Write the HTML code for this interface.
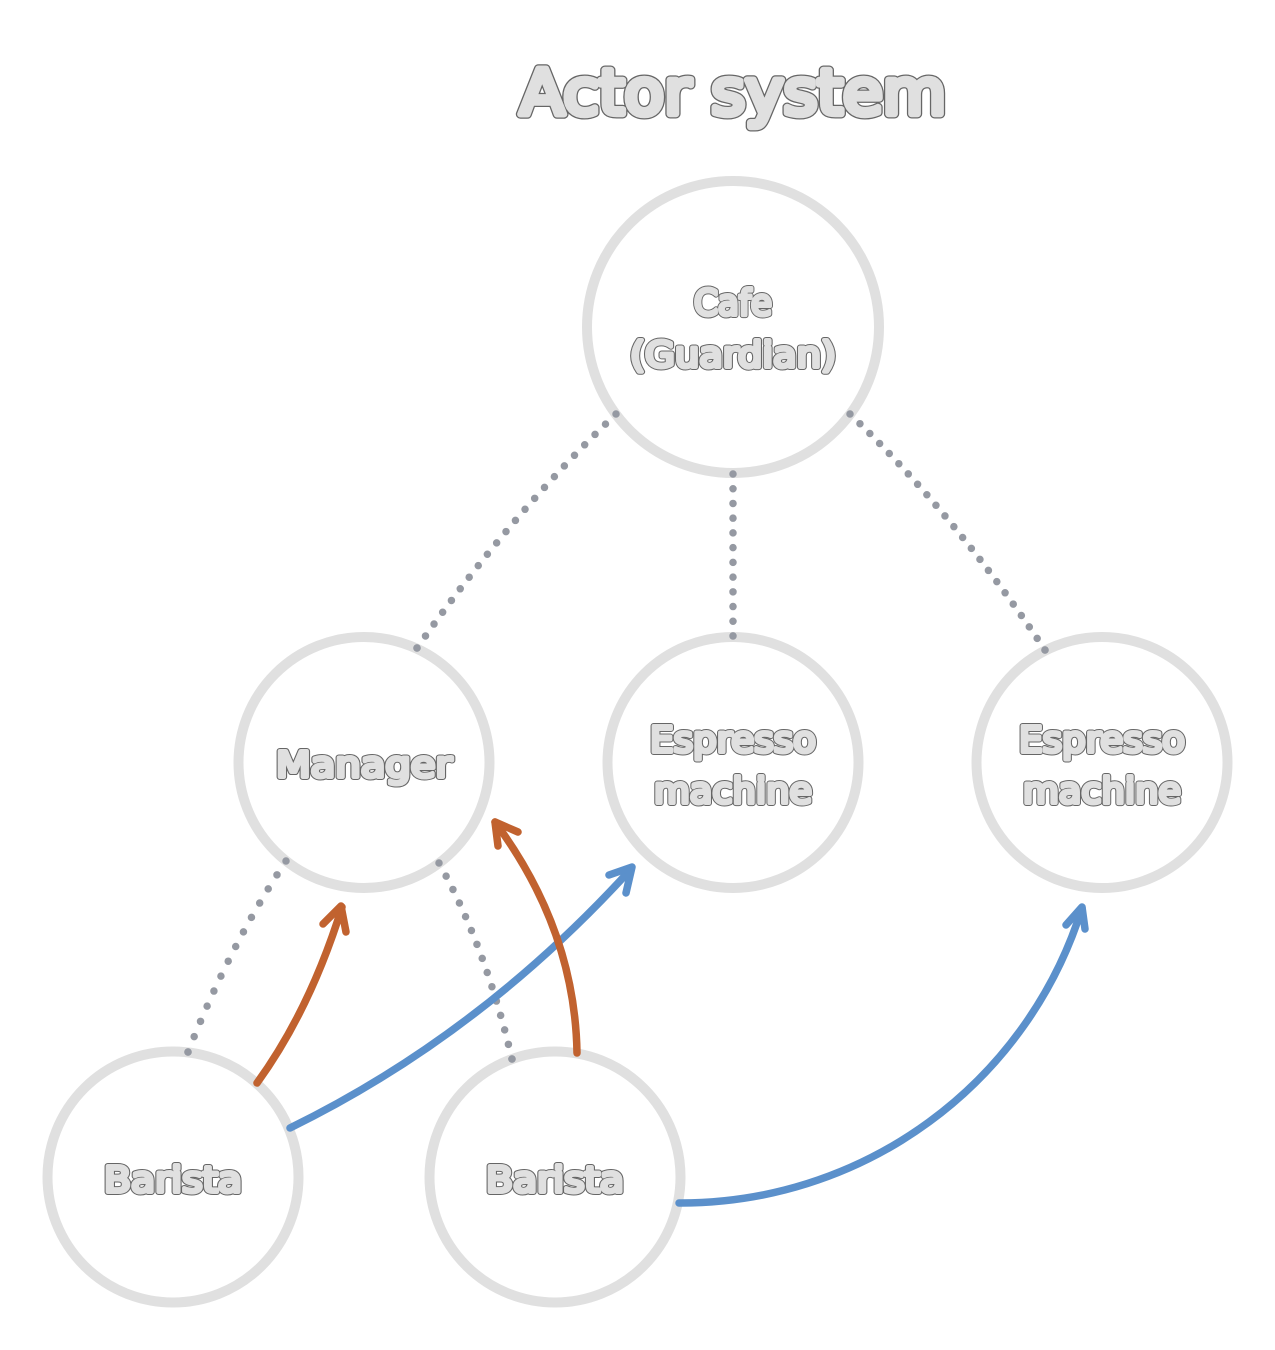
<!DOCTYPE html>
<html><head><meta charset="utf-8"><style>
html,body{margin:0;padding:0;background:#fff;width:1275px;height:1350px;overflow:hidden}
svg{display:block}
text{font-family:"DejaVu Sans","Liberation Sans",sans-serif;font-weight:normal;text-anchor:middle;stroke-linejoin:round;stroke-linecap:round}
.o{fill:#666;stroke:#666}
.i{fill:#e0e0e0;stroke:#e0e0e0}
</style></head><body>
<svg width="1275" height="1350" viewBox="0 0 1275 1350" xmlns="http://www.w3.org/2000/svg">
<g fill="#fff" stroke="#e0e0e0" stroke-width="10">
<circle cx="733" cy="327" r="146"/>
<circle cx="364" cy="762.500" r="125.500"/>
<circle cx="733" cy="762.500" r="125.500"/>
<circle cx="1102" cy="762.500" r="125.500"/>
<circle cx="173" cy="1177" r="125.500"/>
<circle cx="555" cy="1177" r="125.500"/>
</g>
<g fill="none" stroke="#9599a2" stroke-width="7.500" stroke-linecap="round">
<path pathLength="21" stroke-dasharray="0 1" d="M616 414Q510 515 417 648M417 648h0"/>
<path pathLength="11" stroke-dasharray="0 1" d="M733 474V636"/>
<path pathLength="22" stroke-dasharray="0 1" d="M850 414Q955 515 1045 650"/>
<path pathLength="13" stroke-dasharray="0 1" d="M286 861Q230 945 188 1052"/>
<path pathLength="14" stroke-dasharray="0 1" d="M439 863Q485 945 512 1059"/>
</g>
<g fill="#9599a2"><circle cx="733" cy="636" r="3.750"/><circle cx="1045" cy="650" r="3.750"/><circle cx="417" cy="648" r="3.750"/><circle cx="188" cy="1052" r="3.750"/><circle cx="512" cy="1059" r="3.750"/></g>
<g fill="none" stroke-width="7.500" stroke-linecap="round" stroke-linejoin="round">
<g stroke="#5b90cb">
<path d="M290 1128Q480 1035 631 869"/>
<path d="M609 875L632 867L626 893"/>
<path d="M679 1203A420 420 0 0 0 1082 908"/>
<path d="M1066 925L1082 907L1085 929"/>
</g>
<g stroke="#c1622f">
<path d="M257 1083Q310 1010 342 907"/>
<path d="M323 924L341 906L346 932"/>
<path d="M577 1053Q575 930 495 822"/>
<path d="M498 846L495 822L518 832"/>
</g>
</g>
<g font-size="62">
<text class="o" x="733" y="114" stroke-width="9" textLength="426" lengthAdjust="spacingAndGlyphs">Actor system</text>
<text class="i" x="733" y="114" stroke-width="6.500" textLength="426" lengthAdjust="spacingAndGlyphs">Actor system</text>
</g>
<g font-size="36">
<text class="o" x="733" y="315" stroke-width="6" textLength="78" lengthAdjust="spacingAndGlyphs">Cafe</text>
<text class="i" x="733" y="315" stroke-width="4" textLength="78" lengthAdjust="spacingAndGlyphs">Cafe</text>
<text class="o" x="733" y="367" stroke-width="6" textLength="206" lengthAdjust="spacingAndGlyphs">(Guardian)</text>
<text class="i" x="733" y="367" stroke-width="4" textLength="206" lengthAdjust="spacingAndGlyphs">(Guardian)</text>
<text class="o" x="364" y="777" stroke-width="6" textLength="176" lengthAdjust="spacingAndGlyphs">Manager</text>
<text class="i" x="364" y="777" stroke-width="4" textLength="176" lengthAdjust="spacingAndGlyphs">Manager</text>
<text class="o" x="733" y="752" stroke-width="6" textLength="166" lengthAdjust="spacingAndGlyphs">Espresso</text>
<text class="i" x="733" y="752" stroke-width="4" textLength="166" lengthAdjust="spacingAndGlyphs">Espresso</text>
<text class="o" x="733" y="803" stroke-width="6" textLength="158" lengthAdjust="spacingAndGlyphs">machine</text>
<text class="i" x="733" y="803" stroke-width="4" textLength="158" lengthAdjust="spacingAndGlyphs">machine</text>
<text class="o" x="1102" y="752" stroke-width="6" textLength="166" lengthAdjust="spacingAndGlyphs">Espresso</text>
<text class="i" x="1102" y="752" stroke-width="4" textLength="166" lengthAdjust="spacingAndGlyphs">Espresso</text>
<text class="o" x="1102" y="803" stroke-width="6" textLength="158" lengthAdjust="spacingAndGlyphs">machine</text>
<text class="i" x="1102" y="803" stroke-width="4" textLength="158" lengthAdjust="spacingAndGlyphs">machine</text>
<text class="o" x="173" y="1192" stroke-width="6" textLength="138" lengthAdjust="spacingAndGlyphs">Barista</text>
<text class="i" x="173" y="1192" stroke-width="4" textLength="138" lengthAdjust="spacingAndGlyphs">Barista</text>
<text class="o" x="555" y="1192" stroke-width="6" textLength="138" lengthAdjust="spacingAndGlyphs">Barista</text>
<text class="i" x="555" y="1192" stroke-width="4" textLength="138" lengthAdjust="spacingAndGlyphs">Barista</text>
</g>
</svg>
</body></html>
